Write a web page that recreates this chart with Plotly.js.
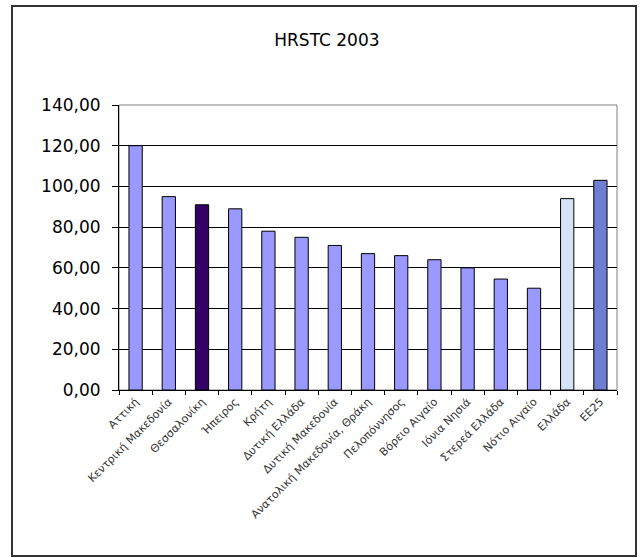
<!DOCTYPE html>
<html>
<head>
<meta charset="utf-8">
<script src="https://cdn.plot.ly/plotly-3.0.1.min.js"></script>
<style>html,body{margin:0;padding:0;background:#fff;}#chart{width:641px;height:558px;}</style>
</head>
<body>
<div id="chart"></div>
<script>
const regions = ["Αττική", "Κεντρική Μακεδονία", "Θεσσαλονίκη", "Ήπειρος", "Κρήτη", "Δυτική Ελλάδα", "Δυτική Μακεδονία", "Ανατολική Μακεδονία, Θράκη", "Πελοπόννησος", "Βόρειο Αιγαίο", "Ιόνια Νησιά", "Στερεά Ελλάδα", "Νότιο Αιγαίο", "Ελλάδα", "ΕΕ25"];
const values = [120.0, 95.0, 91.0, 89.0, 78.0, 75.0, 71.0, 67.0, 66.0, 64.0, 60.0, 54.5, 50.0, 94.0, 103.0];
const barColors = ["#9999FF", "#9999FF", "#330066", "#9999FF", "#9999FF", "#9999FF", "#9999FF", "#9999FF", "#9999FF", "#9999FF", "#9999FF", "#9999FF", "#9999FF", "#D6E2F7", "#6E7ED0"];
const yTicks = [0, 20, 40, 60, 80, 100, 120, 140];

const trace = {
  type: "bar",
  x: regions,
  y: values,
  marker: { color: barColors, line: { color: "#000", width: 1 } },
  hoverinfo: "x+y"
};

const layout = {
  width: 641, height: 558,
  margin: { l: 119, r: 24, t: 105, b: 168 },
  paper_bgcolor: "#fff", plot_bgcolor: "#fff",
  separators: ", ",
  bargap: 0.6,
  showlegend: false,
  title: { text: "HRSTC 2003", x: 0.51, xanchor: "center", y: 0.928, yanchor: "middle",
           font: { family: "DejaVu Sans, sans-serif", size: 17, color: "#000" } },
  xaxis: {
    type: "category",
    tickangle: -45,
    ticks: "outside", tickson: "boundaries", ticklen: 4, tickcolor: "#000",
    showline: true, linecolor: "#000", linewidth: 1,
    showgrid: false,
    tickfont: { family: "DejaVu Sans, sans-serif", size: 11, color: "#333" }
  },
  yaxis: {
    range: [0, 140],
    tickvals: yTicks,
    tickformat: ".2f",
    ticks: "outside", ticklen: 6, tickcolor: "#000",
    ticklabelstandoff: 8,
    showline: true, linecolor: "#000", linewidth: 1,
    showgrid: true, gridcolor: "#000", gridwidth: 1,
    zeroline: false,
    tickfont: { family: "DejaVu Sans, sans-serif", size: 17, color: "#000" }
  },
  shapes: [
    { type: "rect", xref: "paper", yref: "paper", x0: 0, x1: 1, y0: 0, y1: 1,
      line: { color: "#808080", width: 1 }, layer: "below" },
    { type: "rect", xref: "paper", yref: "paper",
      x0: (12 - 119) / 498, x1: (636 - 119) / 498, y0: (390 - 556) / 285, y1: (390 - 6) / 285,
      line: { color: "#333", width: 2 }, layer: "below" }
  ]
};

Plotly.newPlot("chart", [trace], layout, { displayModeBar: false, staticPlot: true });
</script>
</body>
</html>
